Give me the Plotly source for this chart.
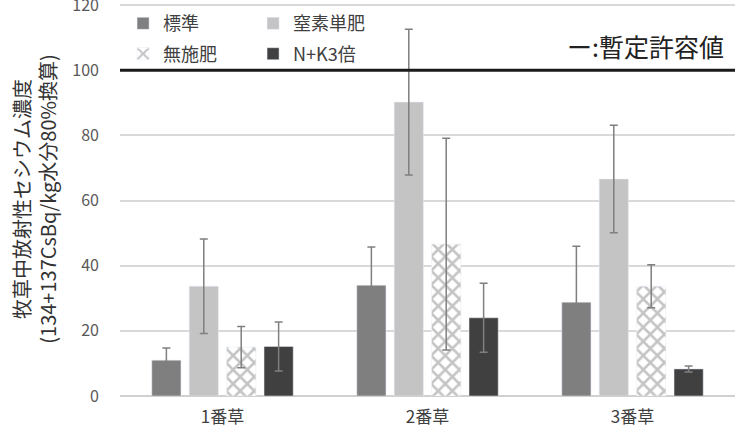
import plotly.graph_objects as go

categories = ["1番草", "2番草", "3番草"]
series_names = ["標準", "窒素単肥", "無施肥", "N+K3倍"]
std_vals = [11, 34, 28.8]
std_err = [3.7, 11.7, 17.2]
n_vals = [33.7, 90.2, 66.6]
n_err = [14.5, 22.4, 16.5]
none_vals = [15, 46.6, 33.7]
none_err = [6.3, 32.5, 6.6]
nk_vals = [15.2, 24, 8.3]
nk_err = [7.5, 10.6, 0.9]
limit_value = 100
y_ticks = [0, 20, 40, 60, 80, 100, 120]

FONT = "Noto Sans CJK JP"
err_style = dict(type="data", color="#7f7f7f", thickness=1.5, width=4)

fig = go.Figure()
fig.add_trace(go.Bar(name=series_names[0], x=categories, y=std_vals,
                     error_y=dict(array=std_err, **err_style),
                     marker=dict(color="#7f7f7f"), legend="legend"))
fig.add_trace(go.Bar(name=series_names[1], x=categories, y=n_vals,
                     error_y=dict(array=n_err, **err_style),
                     marker=dict(color="#c4c4c4"), legend="legend"))
fig.add_trace(go.Bar(name=series_names[2], x=categories, y=none_vals,
                     error_y=dict(array=none_err, **err_style),
                     marker=dict(color="white",
                                 pattern=dict(shape="x", fgcolor="#8a8a8a", bgcolor="white",
                                              size=10, solidity=0.45)),
                     legend="legend2"))
fig.add_trace(go.Bar(name=series_names[3], x=categories, y=nk_vals,
                     error_y=dict(array=nk_err, **err_style),
                     marker=dict(color="#404040"), legend="legend2"))

fig.add_shape(type="line", xref="paper", yref="y", x0=0, x1=1, y0=limit_value, y1=limit_value,
              line=dict(color="#1a1a1a", width=3))

fig.add_annotation(text="ー:暫定許容値", xref="paper", yref="y", x=0.7236, xanchor="left",
                   align="left", y=107.5,
                   showarrow=False, font=dict(family=FONT, size=25, color="#222222"))

legend_common = dict(orientation="h", x=0.005, xanchor="left", yanchor="middle",
                     entrywidth=85, entrywidthmode="pixels",
                     font=dict(family=FONT, size=18, color="#404040"),
                     bgcolor="rgba(0,0,0,0)", itemwidth=30, tracegroupgap=0)

fig.update_layout(
    width=741, height=430,
    margin=dict(l=120, r=6, t=2, b=34, autoexpand=False),
    paper_bgcolor="white", plot_bgcolor="white",
    barmode="group", bargap=0.27, bargroupgap=0.22,
    font=dict(family=FONT, color="#595959"),
    legend=dict(y=0.945, **legend_common),
    legend2=dict(y=0.868, **legend_common),
    xaxis=dict(tickfont=dict(family=FONT, size=17, color="#404040"), automargin=False,
               showline=False, ticks="", ticklabelstandoff=9),
    yaxis=dict(range=[0, 120.93], tickvals=y_ticks, showgrid=True, gridcolor="#d9d9d9", gridwidth=1.5,
               zeroline=True, zerolinecolor="#d0d0d0", zerolinewidth=1.5, automargin=False,
               tickfont=dict(family=FONT, size=16, color="#595959"),
               ticks="", ticklabelstandoff=20, ticklabeloverflow="allow",
               title=dict(text="牧草中放射性セシウム濃度<br>(134+137CsBq/kg水分80%換算)",
                          font=dict(family=FONT, size=20, color="#333333"), standoff=10)),
)

fig.write_html("out.html")
